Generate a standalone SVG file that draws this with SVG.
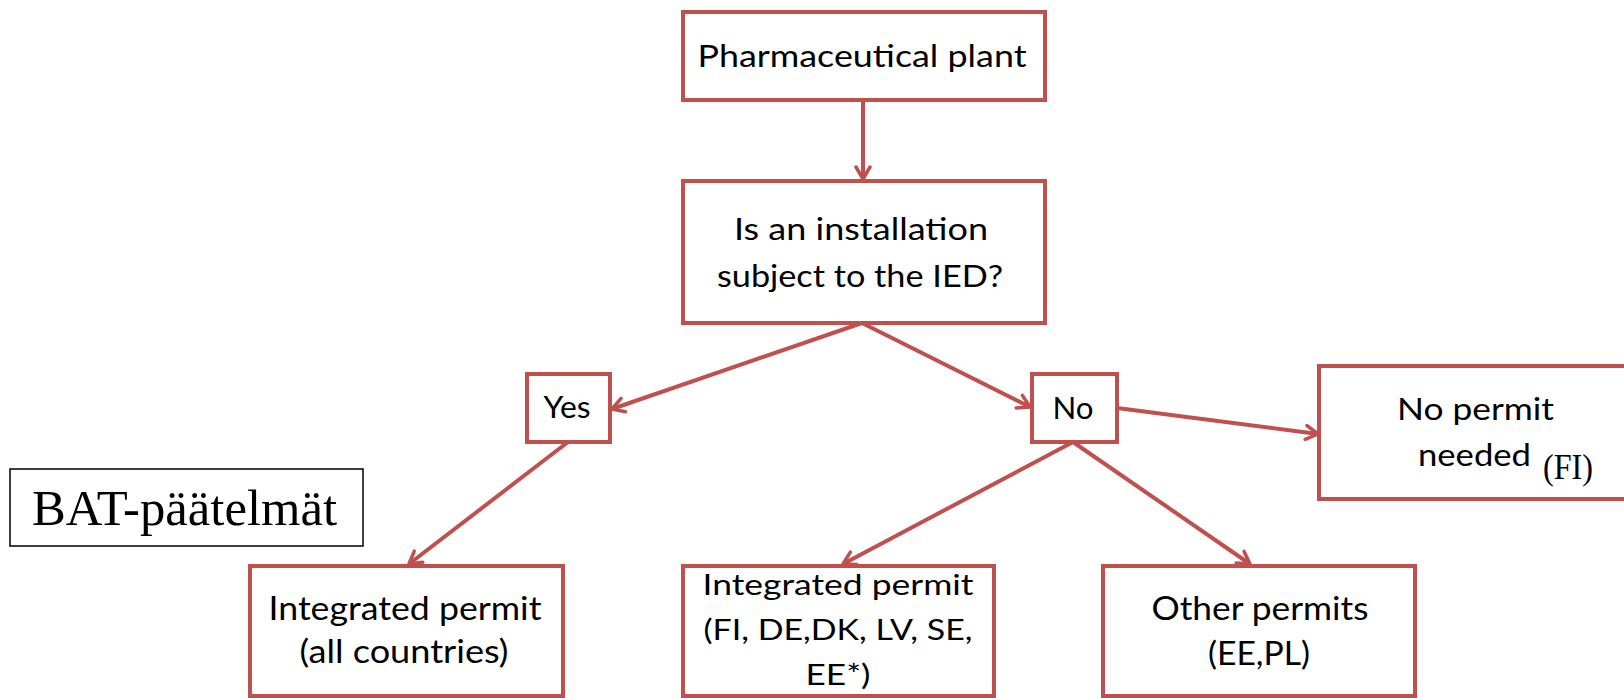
<svg xmlns="http://www.w3.org/2000/svg" width="1624" height="698" viewBox="0 0 1624 698">
<style>
.box{fill:#fff;stroke:#C0504D;stroke-width:4}
.t{font-family:Lato,"Liberation Sans",sans-serif;fill:#000;font-size:31px}
.b{font-size:32px}
.m{font-size:29px}
.s{font-family:"Liberation Serif",serif;fill:#000}
.c{text-anchor:middle}
.con line{stroke:#C0504D;stroke-width:4;fill:none}
</style>
<defs>
<marker id="ah" markerUnits="userSpaceOnUse" viewBox="0 0 16 18" refX="14" refY="9" markerWidth="16" markerHeight="18" orient="auto">
<path d="M2,2 L14,9 L2,16" fill="none" stroke="#C0504D" stroke-width="3.5" stroke-linejoin="round" stroke-linecap="round"/>
</marker>
</defs>
<rect width="1624" height="698" fill="#fff"/>
<g class="con">
<line x1="863" y1="100" x2="863" y2="179" marker-end="url(#ah)"/>
<line x1="862" y1="323" x2="612" y2="409" marker-end="url(#ah)"/>
<line x1="862" y1="323" x2="1030" y2="407" marker-end="url(#ah)"/>
<line x1="1117" y1="408" x2="1318" y2="434" marker-end="url(#ah)"/>
<line x1="568" y1="442" x2="409" y2="564" marker-end="url(#ah)"/>
<line x1="1073" y1="442" x2="843" y2="564" marker-end="url(#ah)"/>
<line x1="1073" y1="442" x2="1250" y2="564" marker-end="url(#ah)"/>
</g>
<g id="pharma">
<rect class="box" x="683" y="12" width="362" height="88"/>
<text class="t c" x="862" y="67" textLength="329" lengthAdjust="spacingAndGlyphs">Pharmaceutical plant</text>
</g>
<g id="ied">
<rect class="box" x="683" y="181" width="362" height="142"/>
<text class="t c" x="861" y="240" textLength="254" lengthAdjust="spacingAndGlyphs">Is an installation</text>
<text class="t c" x="860" y="287" textLength="286" lengthAdjust="spacingAndGlyphs">subject to the IED?</text>
</g>
<g id="yes">
<rect class="box" x="527" y="374" width="83" height="68"/>
<text class="t c" x="567" y="418" textLength="47" lengthAdjust="spacingAndGlyphs">Yes</text>
</g>
<g id="no">
<rect class="box" x="1032" y="374" width="85" height="68"/>
<text class="t c" x="1073" y="419" textLength="41" lengthAdjust="spacingAndGlyphs">No</text>
</g>
<g id="nopermit">
<rect class="box" x="1319" y="366" width="340" height="133"/>
<text class="t" x="1397" y="420" textLength="157" lengthAdjust="spacingAndGlyphs">No permit</text>
<text class="t" x="1418" y="466" textLength="113" lengthAdjust="spacingAndGlyphs">needed</text>
<text class="s" x="1543" y="479" font-size="35" textLength="50" lengthAdjust="spacingAndGlyphs">(FI)</text>
</g>
<g id="integrated-all">
<rect class="box" x="250" y="566" width="313" height="130"/>
<text class="t b c" x="405" y="620" textLength="273" lengthAdjust="spacingAndGlyphs">Integrated permit</text>
<text class="t b c" x="404" y="663" textLength="209" lengthAdjust="spacingAndGlyphs">(all countries)</text>
</g>
<g id="integrated-some">
<rect class="box" x="683" y="566" width="311" height="130"/>
<text class="t m c" x="838" y="595" textLength="271" lengthAdjust="spacingAndGlyphs">Integrated permit</text>
<text class="t m c" x="838" y="640" textLength="269" lengthAdjust="spacingAndGlyphs">(FI, DE,DK, LV, SE,</text>
<text class="t m c" x="838" y="685" textLength="65" lengthAdjust="spacingAndGlyphs">EE*)</text>
</g>
<g id="other">
<rect class="box" x="1103" y="566" width="312" height="130"/>
<text class="t b c" x="1260" y="620" textLength="217" lengthAdjust="spacingAndGlyphs">Other permits</text>
<text class="t b c" x="1259" y="665" textLength="102" lengthAdjust="spacingAndGlyphs">(EE,PL)</text>
</g>
<g id="bat">
<rect x="10" y="469" width="353" height="77" fill="#fff" stroke="#000" stroke-width="1.5"/>
<text class="s" x="32" y="525" font-size="51" textLength="305" lengthAdjust="spacingAndGlyphs">BAT-päätelmät</text>
</g>
</svg>
